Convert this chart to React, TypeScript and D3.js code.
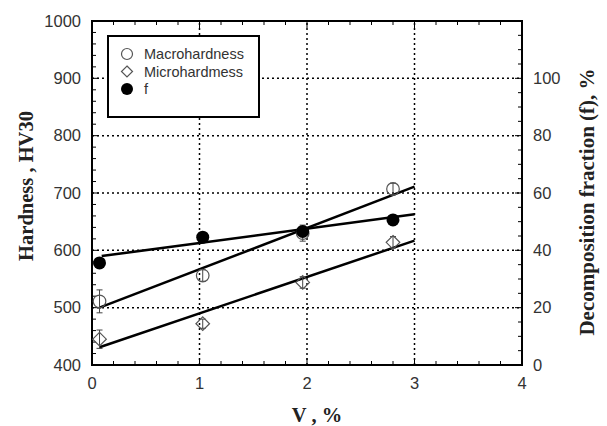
import React from "react";
import * as d3 from "d3";

const V = [0.07, 1.03, 1.96, 2.8];
const macro = [511, 556, 630, 707];
const macroErr = [20, 10, 14, 10];
const micro = [445, 472, 544, 614];
const microErr = [16, 8, 10, 10];
const fVals = [35.6, 44.6, 46.6, 50.6];
const macroFit = [[0.07, 500], [3, 711]];
const microFit = [[0.07, 431], [3, 617]];
const fFit = [[0.09, 38], [3, 52.6]];
const xTicks = [0, 1, 2, 3, 4];
const yTicks = [400, 500, 600, 700, 800, 900, 1000];
const yRTicks = [0, 20, 40, 60, 80, 100];
const legendItems = ["Macrohardness", "Microhardmess", "f"];

const W = 607, H = 426;
const L = 92, R = 522, T = 21, B = 365;

export default function App() {
  const x = d3.scaleLinear().domain([0, 4]).range([L, R]);
  const y = d3.scaleLinear().domain([400, 1000]).range([B, T]);
  const yR = d3.scaleLinear().domain([0, 120]).range([B, T]);
  const line = d3.line<number[]>();

  const xMinor = d3.range(0, 4.0001, 0.2);
  const yMinor = d3.range(400, 1000.001, 20);
  const yRMinor = d3.range(0, 120.001, 5);
  const gridX = [1, 2, 3];
  const gridY = [500, 600, 700, 800, 900];
  const tickFont = "Arial, 'Liberation Sans', sans-serif";
  const titleFont = "'Times New Roman', 'Liberation Serif', serif";

  const diamond = (cx: number, cy: number, r: number) =>
    `M${cx},${cy - r}L${cx + r},${cy}L${cx},${cy + r}L${cx - r},${cy}Z`;

  return (
    <svg width={W} height={H} style={{ position: "absolute", left: 0, top: 0, background: "#fff" }}>
      <rect x={0} y={0} width={W} height={H} fill="#fff" />
      {/* grid */}
      {gridX.map((v) => (
        <line key={"gx" + v} x1={x(v)} x2={x(v)} y1={B} y2={T} stroke="#000" strokeWidth={1.5} strokeDasharray="2,3" />
      ))}
      {gridY.map((v) => (
        <line key={"gy" + v} x1={L} x2={R} y1={y(v)} y2={y(v)} stroke="#000" strokeWidth={1.5} strokeDasharray="2,3" />
      ))}
      {/* minor ticks */}
      {xMinor.map((v, i) => {
        const major = Math.abs(v - Math.round(v)) < 1e-6;
        const len = major ? 7 : 4;
        return (
          <g key={"xm" + i}>
            <line x1={x(v)} x2={x(v)} y1={B} y2={B - len} stroke="#000" strokeWidth={1} />
            <line x1={x(v)} x2={x(v)} y1={T} y2={T + len} stroke="#000" strokeWidth={1} />
          </g>
        );
      })}
      {yMinor.map((v, i) => {
        const major = v % 100 === 0;
        const len = major ? 7 : 4;
        return <line key={"ym" + i} x1={L} x2={L + len} y1={y(v)} y2={y(v)} stroke="#000" strokeWidth={1} />;
      })}
      {yRMinor.map((v, i) => {
        const major = v % 20 === 0;
        const len = major ? 7 : 4;
        return <line key={"yrm" + i} x1={R} x2={R - len} y1={yR(v)} y2={yR(v)} stroke="#000" strokeWidth={1} />;
      })}
      {/* frame */}
      <rect x={L} y={T} width={R - L} height={B - T} fill="none" stroke="#000" strokeWidth={2} />
      {/* tick labels */}
      {xTicks.map((v) => (
        <text key={"xt" + v} x={x(v)} y={389} textAnchor="middle" fontFamily={tickFont} fontSize={16.5} fill="#333">
          {v}
        </text>
      ))}
      {yTicks.map((v) => (
        <text key={"yt" + v} x={81} y={y(v)} dy="0.35em" textAnchor="end" fontFamily={tickFont} fontSize={16.5} fill="#333">
          {v}
        </text>
      ))}
      {yRTicks.map((v) => (
        <text key={"yrt" + v} x={533} y={yR(v)} dy="0.35em" textAnchor="start" fontFamily={tickFont} fontSize={16.5} fill="#333">
          {v}
        </text>
      ))}
      {/* axis titles */}
      <text x={317} y={422} textAnchor="middle" fontFamily={titleFont} fontWeight="bold" fontSize={20.5} fill="#222">
        V , %
      </text>
      <text transform={`translate(25.5,186) rotate(-90)`} textAnchor="middle" dy="0.35em" fontFamily={titleFont} fontWeight="bold" fontSize={20.5} fill="#222">
        Hardness , HV30
      </text>
      <text transform={`translate(587,202) rotate(-90)`} textAnchor="middle" dy="0.35em" fontFamily={titleFont} fontWeight="bold" fontSize={21} fill="#222">
        Decomposition fraction (f), %
      </text>
      {/* fit lines */}
      <path d={line(macroFit.map((p) => [x(p[0]), y(p[1])]) as any) || ""} stroke="#000" strokeWidth={2.5} fill="none" />
      <path d={line(microFit.map((p) => [x(p[0]), y(p[1])]) as any) || ""} stroke="#000" strokeWidth={2.5} fill="none" />
      <path d={line(fFit.map((p) => [x(p[0]), yR(p[1])]) as any) || ""} stroke="#000" strokeWidth={2.5} fill="none" />
      {/* error bars */}
      {V.map((v, i) => (
        <g key={"eb" + i} stroke="#444" strokeWidth={1}>
          <line x1={x(v)} x2={x(v)} y1={y(macro[i] - macroErr[i])} y2={y(macro[i] + macroErr[i])} />
          <line x1={x(v) - 3} x2={x(v) + 3} y1={y(macro[i] - macroErr[i])} y2={y(macro[i] - macroErr[i])} />
          <line x1={x(v) - 3} x2={x(v) + 3} y1={y(macro[i] + macroErr[i])} y2={y(macro[i] + macroErr[i])} />
          <line x1={x(v)} x2={x(v)} y1={y(micro[i] - microErr[i])} y2={y(micro[i] + microErr[i])} />
          <line x1={x(v) - 3} x2={x(v) + 3} y1={y(micro[i] - microErr[i])} y2={y(micro[i] - microErr[i])} />
          <line x1={x(v) - 3} x2={x(v) + 3} y1={y(micro[i] + microErr[i])} y2={y(micro[i] + microErr[i])} />
        </g>
      ))}
      {/* markers */}
      {V.map((v, i) => (
        <g key={"mk" + i}>
          <circle cx={x(v)} cy={y(macro[i])} r={6.3} fill="none" stroke="#555" strokeWidth={1.2} />
          <path d={diamond(x(v), y(micro[i]), 6.8)} fill="none" stroke="#555" strokeWidth={1.2} />
          <circle cx={x(v)} cy={yR(fVals[i])} r={6.5} fill="#000" />
        </g>
      ))}
      {/* legend */}
      <rect x={108} y={36} width={151} height={81} fill="#fff" stroke="#000" strokeWidth={2} />
      {legendItems.map((t, i) => {
        const cy = 54 + i * 17.5;
        return (
          <g key={"lg" + i}>
            {i === 0 && <circle cx={127} cy={cy} r={5.5} fill="none" stroke="#555" strokeWidth={1.2} />}
            {i === 1 && <path d={diamond(127, cy, 5.5)} fill="none" stroke="#555" strokeWidth={1.2} />}
            {i === 2 && <circle cx={127} cy={cy} r={6} fill="#000" />}
            <text x={144} y={cy} dy="0.35em" fontFamily={tickFont} fontSize={14.5} fill="#333">
              {t}
            </text>
          </g>
        );
      })}
    </svg>
  );
}
